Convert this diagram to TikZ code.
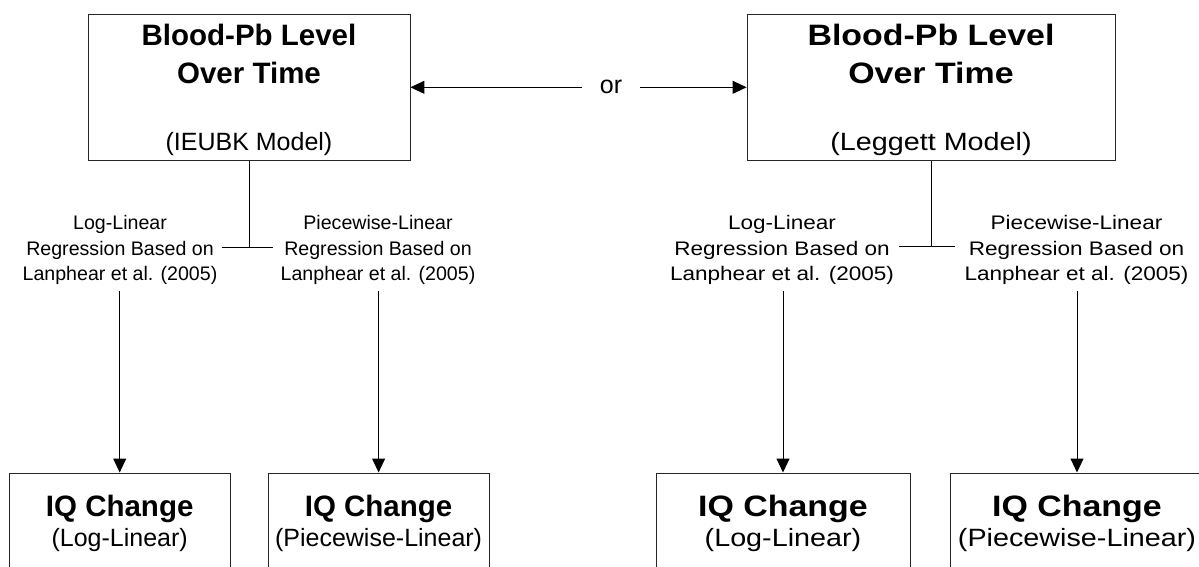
\documentclass[tikz,border=0pt]{standalone}
\usepackage{fontspec}
\setmainfont{Liberation Sans}
% the right-hand branch is set in a horizontally widened cut of the same face
\newfontfamily\widefont[FakeStretch=1.15]{Liberation Sans}
\usetikzlibrary{arrows.meta}

\newcommand{\fTitle}{\fontsize{29.5}{32}\selectfont\bfseries}
\newcommand{\fSub}{\fontsize{25}{28}\selectfont}
\newcommand{\fLbl}{\fontsize{19.6}{25.7}\selectfont}

\begin{document}
\begin{tikzpicture}[x=1pt, y=-1pt,
  box/.style={draw=black!85, line width=0.9pt, inner sep=0pt},
  titleA/.style={font=\fTitle, anchor=base, inner sep=0pt},
  titleB/.style={font=\widefont\fTitle, anchor=base, inner sep=0pt},
  subA/.style={font=\fSub, anchor=base, inner sep=0pt},
  subB/.style={font=\widefont\fSub, anchor=base, inner sep=0pt},
  lblA/.style={font=\fLbl, align=center, inner xsep=0pt, inner ysep=6pt},
  lblB/.style={font=\widefont\fLbl, align=center, inner xsep=0pt, inner ysep=6pt},
  conn/.style={line width=1pt, draw=black},
  arr/.style={conn, -{Triangle[length=14pt, width=13pt]}}
]
\useasboundingbox (0,0) rectangle (1199,567);
\clip (0,0) rectangle (1199,567);

% --- top model boxes ---
\node[box, minimum width=322pt, minimum height=146pt] (T1) at (249,87.3) {};
\node[titleA] (t1a) at (249,45.7) {Blood-Pb Level};
\node[titleA] (t1b) at (249,83.3) {Over Time};
\node[subA]   (t1c) at (249,150) {(IEUBK Model)};

\node[box, minimum width=368pt, minimum height=146pt] (T2) at (931,87.3) {};
\node[titleB] (t2a) at (931,45.7) {Blood-Pb Level};
\node[titleB] (t2b) at (931,83.3) {Over Time};
\node[subB]   (t2c) at (931,150) {(Leggett Model)};

% --- alternative between the two models ---
\node[font=\fSub, inner xsep=17.5pt, inner ysep=0pt] (or) at (611,87.3) {or};
\draw[arr] (or.west) -- (T1.east);
\draw[arr] (or.east) -- (T2.west);

% --- regression labels ---
\node[lblA] (L1) at (120,250) {Log-Linear\\Regression Based on\\Lanphear et al. (2005)};
\node[lblA] (L2) at (378,250) {Piecewise-Linear\\Regression Based on\\Lanphear et al. (2005)};
\node[lblB] (L3) at (782,250) {Log-Linear\\Regression Based on\\Lanphear et al. (2005)};
\node[lblB] (L4) at (1076.5,250) {Piecewise-Linear\\Regression Based on\\Lanphear et al. (2005)};

% --- branching tees under the model boxes ---
\coordinate (j1)  at (249,247.7);
\coordinate (j1l) at (221.7,247.7);
\coordinate (j1r) at (273.3,247.7);
\draw[conn] (T1.south) -- (j1);
\draw[conn] (j1l) -- (j1r);

\coordinate (j2)  at (931,246.7);
\coordinate (j2l) at (899.3,246.7);
\coordinate (j2r) at (955,246.7);
\draw[conn] (T2.south) -- (j2);
\draw[conn] (j2l) -- (j2r);

% --- IQ change boxes ---
\node[box, anchor=north, minimum width=221pt, minimum height=130pt] (B1) at (119.7,472.5) {};
\node[titleA] (b1a) at (119.7,516.7) {IQ Change};
\node[subA]   (b1b) at (119.7,546.7) {(Log-Linear)};

\node[box, anchor=north, minimum width=221pt, minimum height=130pt] (B2) at (378.6,472.5) {};
\node[titleA] (b2a) at (378.6,516.7) {IQ Change};
\node[subA]   (b2b) at (378.6,546.7) {(Piecewise-Linear)};

\node[box, anchor=north, minimum width=254pt, minimum height=130pt] (B3) at (783,472.5) {};
\node[titleB] (b3a) at (783,516.7) {IQ Change};
\node[subB]   (b3b) at (783,546.7) {(Log-Linear)};

\node[box, anchor=north, minimum width=254pt, minimum height=130pt] (B4) at (1077,472.5) {};
\node[titleB] (b4a) at (1077,516.7) {IQ Change};
\node[subB]   (b4b) at (1077,546.7) {(Piecewise-Linear)};

% --- arrows from the labels down to the IQ boxes ---
\draw[arr] (B1.north |- L1.south) -- (B1.north);
\draw[arr] (B2.north |- L2.south) -- (B2.north);
\draw[arr] (B3.north |- L3.south) -- (B3.north);
\draw[arr] (B4.north |- L4.south) -- (B4.north);
\end{tikzpicture}
\end{document}
